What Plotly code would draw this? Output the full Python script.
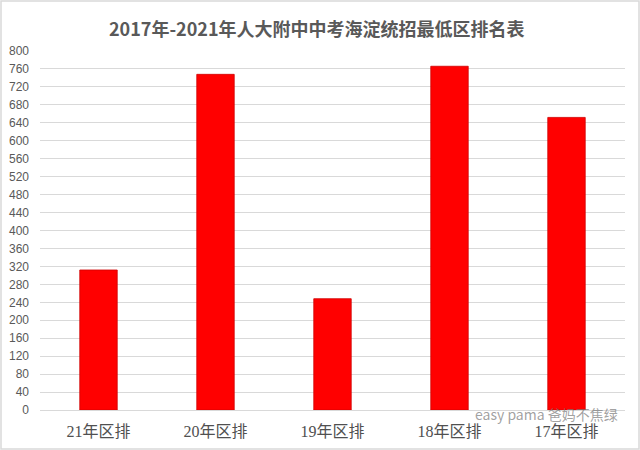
import plotly.graph_objects as go

categories = ["21年区排", "20年区排", "19年区排", "18年区排", "17年区排"]
values = [312, 748, 248, 766, 652]
y_ticks = list(range(0, 801, 40))

W, H = 640, 450
L, R, T, B = 40, 15, 51, 40

fig = go.Figure(go.Bar(
    x=categories, y=values,
    marker=dict(color="#FF0000", line=dict(color="#D00000", width=0.8)),
    hoverinfo="x+y",
))

fig.update_layout(
    width=W, height=H,
    margin=dict(l=L, r=R, t=T, b=B, autoexpand=False),
    paper_bgcolor="white", plot_bgcolor="white",
    bargap=0.68,
    showlegend=False,
    title=dict(
        text="<b>2017年-2021年人大附中中考海淀统招最低区排名表</b>",
        x=0.495, xanchor="center", xref="container", y=0.935, yanchor="middle", yref="container",
        font=dict(family="Noto Sans CJK SC, sans-serif", size=18, color="#595959"),
    ),
    xaxis=dict(
        showgrid=False, showline=False, ticks="", ticklabelstandoff=10,
        tickfont=dict(family="Liberation Serif, Noto Sans CJK SC, serif", size=16, color="#505050"),
    ),
    yaxis=dict(
        range=[0, 800], tickvals=y_ticks, ticks="", ticklabelstandoff=10,
        showgrid=True, gridcolor="#D9D9D9", gridwidth=1,
        zeroline=True, zerolinecolor="#D9D9D9", zerolinewidth=1,
        showline=False,
        tickfont=dict(family="Liberation Sans, Arial, sans-serif", size=12, color="#595959"),
    ),
    shapes=[dict(
        type="rect", xref="paper", yref="paper",
        x0=-(L - 1) / (W - L - R), x1=1 + (R - 1) / (W - L - R),
        y0=-(B - 1) / (H - T - B), y1=1 + (T - 1) / (H - T - B),
        line=dict(color="#D9D9D9", width=1.5), fillcolor="rgba(0,0,0,0)", layer="below",
    )],
    annotations=[dict(
        text="easy pama 爸妈不焦绿", xref="paper", yref="paper",
        x=(620 - L) / (W - L - R), y=-(414 - (H - B)) / (H - T - B),
        xanchor="right", yanchor="middle", showarrow=False,
        font=dict(family="Noto Sans CJK SC, sans-serif", size=14, color="rgba(120,120,120,0.7)"),
    )],
)

fig.write_html("out.html", config={"displayModeBar": False},
               post_script="document.body.style.margin='0';")
